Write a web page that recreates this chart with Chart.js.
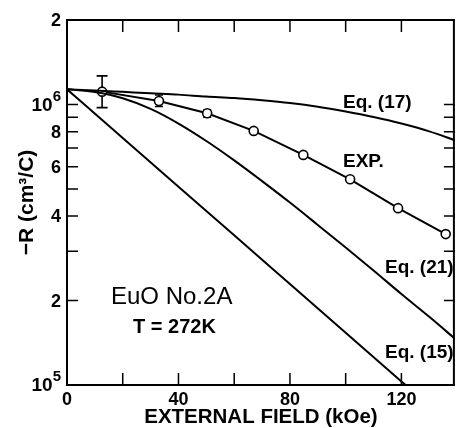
<!DOCTYPE html>
<html>
<head>
<meta charset="utf-8">
<script src="https://cdn.jsdelivr.net/npm/chart.js@4"></script>
<style>
  body { margin: 0; background: #fff; }
  canvas { display: block; }
</style>
</head>
<body>
<canvas id="grafico" width="461" height="428"></canvas>
<script>
// valores (x em kOe, y em cm3/C)
const fieldCalc = [0, 10, 20, 30, 40, 50, 60, 70, 80, 90, 100, 110, 120, 130, 140];
const eq17 = [1.132e6, 1.122e6, 1.109e6, 1.096e6, 1.084e6, 1.067e6, 1.054e6, 1.035e6, 1.012e6, 9.82e5, 9.44e5, 9.02e5, 8.55e5, 8.02e5, 7.41e5];
const eq21 = [1.132e6, 1.107e6, 1.052e6, 9.64e5, 8.55e5, 7.41e5, 6.32e5, 5.33e5, 4.47e5, 3.72e5, 3.09e5, 2.56e5, 2.11e5, 1.75e5, 1.44e5];
const field15 = [0, 20, 40, 60, 80, 100, 120, 121.5];
const eq15 = [1.132e6, 7.60e5, 5.09e5, 3.42e5, 2.29e5, 1.535e5, 1.03e5, 1.0e5];

const fieldExp = [12.6, 33.0, 50.3, 67.0, 84.8, 101.6, 118.8, 135.9];
const valExp = [1.111e6, 1.029e6, 9.30e5, 8.05e5, 6.61e5, 5.41e5, 4.27e5, 3.45e5];
// barras de erro (so nos tres primeiros pontos)
const errIdx = [0, 1, 2];
const errLow = [9.74e5, 9.83e5, 9.0e5];
const errHigh = [1.264e6, 1.081e6, 9.56e5];
const errCap = [11, 8, 8];

const xTickValues = [0, 20, 40, 60, 80, 100, 120];
const xTickLabels = ['0', '', '40', '', '80', '', '120'];
const yTickValues = [1e5, 2e5, 3e5, 4e5, 5e5, 6e5, 7e5, 8e5, 9e5, 1e6, 2e6];
const yTickLabels = [['10', '5'], ['2'], [''], ['4'], [''], ['6'], [''], ['8'], [''], ['10', '6'], ['2']];

const textos = [
    { t: 'Eq. (17)', x: 343, y: 103, font: 'bold 19px "Liberation Sans", Arial' },
    { t: 'EXP.', x: 343, y: 162, font: 'bold 19px "Liberation Sans", Arial' },
    { t: 'Eq. (21)', x: 385, y: 268, font: 'bold 19px "Liberation Sans", Arial' },
    { t: 'Eq. (15)', x: 385, y: 353, font: 'bold 19px "Liberation Sans", Arial' },
    { t: 'EuO No.2A', x: 111, y: 297, font: '24px "Liberation Sans", Arial' },
    { t: 'T = 272K', x: 133, y: 327, font: 'bold 20px "Liberation Sans", Arial' },
];

const pares = (xs, ys) => xs.map((x, i) => ({ x: x, y: ys[i] }));

const molduraPlugin = {
    id: 'moldura',
    beforeDatasetsDraw(chart) {
        const ctx = chart.ctx;
        const xs = chart.scales.x, ys = chart.scales.y;
        ctx.save();
        ctx.strokeStyle = '#000';
        ctx.lineWidth = 1.6;
        errIdx.forEach((k, i) => {
            const px = xs.getPixelForValue(fieldExp[k]);
            const p1 = ys.getPixelForValue(errLow[i]);
            const p2 = ys.getPixelForValue(errHigh[i]);
            const c = errCap[i] / 2;
            ctx.beginPath();
            ctx.moveTo(px, p1); ctx.lineTo(px, p2);
            ctx.moveTo(px - c, p1); ctx.lineTo(px + c, p1);
            ctx.moveTo(px - c, p2); ctx.lineTo(px + c, p2);
            ctx.stroke();
        });
        ctx.restore();
    },
    afterDraw(chart) {
        const ctx = chart.ctx;
        const a = chart.chartArea;
        const xs = chart.scales.x, ys = chart.scales.y;
        ctx.save();
        ctx.strokeStyle = '#000';
        ctx.fillStyle = '#000';
        ctx.lineWidth = 2;
        ctx.strokeRect(a.left, a.top, a.right - a.left - 1, a.bottom - a.top);

        ctx.lineWidth = 1.5;
        ctx.beginPath();
        xTickValues.forEach(v => {
            const px = xs.getPixelForValue(v);
            ctx.moveTo(px, a.bottom); ctx.lineTo(px, a.bottom - 12);
            ctx.moveTo(px, a.top); ctx.lineTo(px, a.top + 12);
        });
        yTickValues.forEach(v => {
            const py = ys.getPixelForValue(v);
            ctx.moveTo(a.left, py); ctx.lineTo(a.left + 11, py);
            ctx.moveTo(a.right, py); ctx.lineTo(a.right - 11, py);
        });
        ctx.stroke();

        // rotulos do eixo y (10^5, 10^6 com expoente)
        ctx.textBaseline = 'middle';
        yTickValues.forEach((v, i) => {
            const lab = yTickLabels[i];
            if (!lab[0]) return;
            const py = ys.getPixelForValue(v);
            const xr = a.left - 6;
            ctx.textAlign = 'right';
            if (lab.length == 2) {
                ctx.font = 'bold 15px "Liberation Sans", Arial';
                const we = ctx.measureText(lab[1]).width;
                ctx.fillText(lab[1], xr, py - 8);
                ctx.font = 'bold 19px "Liberation Sans", Arial';
                ctx.fillText(lab[0], xr - we, py + 1);
            } else {
                ctx.font = 'bold 18px "Liberation Sans", Arial';
                ctx.fillText(lab[0], xr, py + 1);
            }
        });

        ctx.textAlign = 'left';
        textos.forEach(o => {
            ctx.font = o.font;
            ctx.fillText(o.t, o.x, o.y);
        });
        ctx.restore();
    }
};

const linha = {
    borderColor: '#000',
    borderWidth: 2,
    pointRadius: 0,
    fill: false,
    cubicInterpolationMode: 'monotone',
};

new Chart(document.getElementById('grafico'), {
    type: 'line',
    data: {
        datasets: [
            { ...linha, label: 'Eq. (17)', data: pares(fieldCalc, eq17) },
            { ...linha, label: 'Eq. (21)', data: pares(fieldCalc, eq21) },
            { ...linha, label: 'Eq. (15)', data: pares(field15, eq15) },
            {
                label: 'EXP.',
                data: pares(fieldExp, valExp),
                borderColor: '#000',
                borderWidth: 2,
                tension: 0,
                pointRadius: 4.5,
                pointBorderWidth: 1.6,
                pointBackgroundColor: '#fff',
                pointBorderColor: '#000',
            },
        ]
    },
    options: {
        responsive: false,
        animation: false,
        layout: { padding: { top: 20, right: 0, left: 0, bottom: 0 } },
        plugins: {
            legend: { display: false },
            tooltip: { enabled: false },
        },
        scales: {
            x: {
                type: 'linear',
                min: 0,
                max: 139.2,
                afterBuildTicks: s => { s.ticks = xTickValues.map(v => ({ value: v })); },
                afterFit: s => { s.height = 43; },
                grid: { display: false, drawTicks: false },
                border: { display: false },
                ticks: {
                    autoSkip: false,
                    maxRotation: 0,
                    padding: 4,
                    color: '#000',
                    font: { family: '"Liberation Sans", Arial', weight: 'bold', size: 18 },
                    callback: (v) => xTickLabels[xTickValues.indexOf(v)] || '',
                },
                title: {
                    display: true,
                    text: 'EXTERNAL FIELD (kOe)',
                    color: '#000',
                    padding: { top: 0, bottom: 0 },
                    font: { family: '"Liberation Sans", Arial', weight: 'bold', size: 20.5, lineHeight: 1 },
                },
            },
            y: {
                type: 'logarithmic',
                min: 1e5,
                max: 2e6,
                afterBuildTicks: s => { s.ticks = yTickValues.map(v => ({ value: v })); },
                afterFit: s => { s.width = 67; },
                grid: { display: false, drawTicks: false },
                border: { display: false },
                ticks: { display: false },
                title: {
                    display: true,
                    text: '\u2212R (cm\u00b3/C)',
                    color: '#000',
                    padding: { top: 17, bottom: 0 },
                    font: { family: '"Liberation Sans", Arial', weight: 'bold', size: 21, lineHeight: 1 },
                },
            },
        },
    },
    plugins: [molduraPlugin],
});
</script>
</body>
</html>
